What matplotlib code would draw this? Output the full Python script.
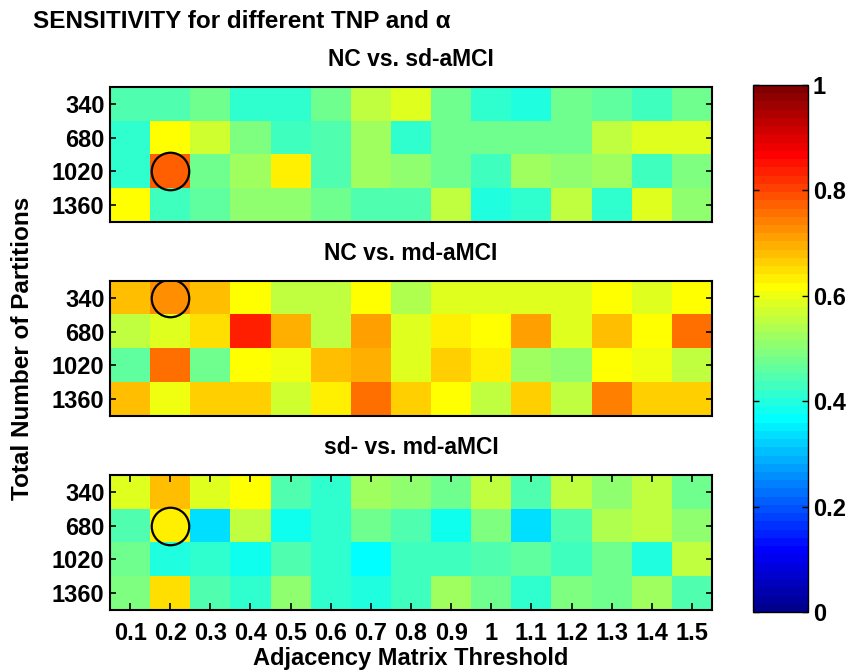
import numpy as np
import matplotlib
matplotlib.use("Agg")
import matplotlib.pyplot as plt
from matplotlib.colors import ListedColormap

plt.rcParams['font.family'] = ['Liberation Sans', 'DejaVu Sans']
plt.rcParams['font.weight'] = 'bold'

# Data

thresholds = ["0.1", "0.2", "0.3", "0.4", "0.5", "0.6", "0.7", "0.8",
              "0.9", "1", "1.1", "1.2", "1.3", "1.4", "1.5"]
partitions = ["340", "680", "1020", "1360"]

titles = ["NC vs. sd-aMCI", "NC vs. md-aMCI", "sd- vs. md-aMCI"]

sens_nc_sd = [
    [0.44, 0.44, 0.47, 0.41, 0.41, 0.48, 0.55, 0.58, 0.48, 0.42, 0.40, 0.47, 0.46, 0.43, 0.48],
    [0.41, 0.61, 0.57, 0.49, 0.43, 0.45, 0.53, 0.42, 0.47, 0.47, 0.48, 0.47, 0.56, 0.59, 0.59],
    [0.41, 0.78, 0.47, 0.52, 0.63, 0.45, 0.52, 0.51, 0.47, 0.43, 0.52, 0.51, 0.52, 0.43, 0.49],
    [0.62, 0.43, 0.46, 0.50, 0.50, 0.47, 0.44, 0.44, 0.56, 0.40, 0.42, 0.56, 0.42, 0.59, 0.50],
]

sens_nc_md = [
    [0.68, 0.73, 0.68, 0.62, 0.55, 0.55, 0.62, 0.54, 0.59, 0.58, 0.59, 0.59, 0.61, 0.58, 0.62],
    [0.55, 0.58, 0.65, 0.84, 0.69, 0.55, 0.71, 0.59, 0.64, 0.62, 0.71, 0.58, 0.68, 0.62, 0.75],
    [0.46, 0.75, 0.48, 0.62, 0.60, 0.68, 0.69, 0.58, 0.66, 0.64, 0.52, 0.50, 0.62, 0.60, 0.55],
    [0.68, 0.60, 0.66, 0.67, 0.57, 0.64, 0.75, 0.66, 0.62, 0.56, 0.66, 0.55, 0.74, 0.66, 0.67],
]

sens_sd_md = [
    [0.59, 0.68, 0.58, 0.62, 0.45, 0.42, 0.52, 0.50, 0.48, 0.55, 0.45, 0.55, 0.50, 0.56, 0.47],
    [0.44, 0.63, 0.33, 0.55, 0.39, 0.41, 0.47, 0.44, 0.38, 0.49, 0.33, 0.44, 0.54, 0.55, 0.51],
    [0.47, 0.40, 0.41, 0.39, 0.45, 0.41, 0.36, 0.43, 0.43, 0.44, 0.46, 0.43, 0.48, 0.40, 0.56],
    [0.49, 0.65, 0.44, 0.42, 0.50, 0.42, 0.40, 0.43, 0.53, 0.47, 0.41, 0.49, 0.48, 0.52, 0.44],
]

# marked (best) cell in each panel: (column, row)
best_cells = [(1, 2), (1, 0), (1, 1)]


# MATLAB style jet(64)

def matlab_jet(m=64):
    n = int(np.ceil(m / 4))
    u = np.concatenate([np.arange(1, n + 1) / n, np.ones(n - 1), np.arange(n, 0, -1) / n])
    g = int(np.ceil(n / 2)) - (1 if m % 4 == 1 else 0) + np.arange(1, len(u) + 1)
    r = g + n
    b = g - n
    J = np.zeros((m, 3))
    for col, idx in ((0, r), (1, g), (2, b)):
        ok = (idx >= 1) & (idx <= m)
        J[idx[ok] - 1, col] = u[ok]
    return ListedColormap(J)

cmap = matlab_jet(64)


# Figure

fig = plt.figure(figsize=(8.5, 6.71), dpi=100)

panel_tops = [87, 281, 475]
panel_h = 135
left, right = 110, 712
fs = 17

for k, data in enumerate([sens_nc_sd, sens_nc_md, sens_sd_md]):
    top = panel_tops[k]
    ax = fig.add_axes([left / 850, 1 - (top + panel_h) / 671,
                       (right - left) / 850, panel_h / 671])
    im = ax.imshow(np.array(data), cmap=cmap, vmin=0, vmax=1,
                   aspect='auto', interpolation='nearest')
    cx, cy = best_cells[k]
    ax.plot(cx, cy, 'o', ms=27, mfc='none', mec='k', mew=1.6)
    ax.set_title(titles[k], fontsize=16.5, fontweight='bold', pad=15)
    ax.set_yticks(range(len(partitions)))
    ax.set_yticklabels(partitions, fontsize=fs, fontweight='bold')
    ax.tick_params(axis='y', direction='in', left=True, right=True, length=4,
                   width=1.2, pad=4)
    if k == 2:
        ax.set_xticks(range(len(thresholds)))
        ax.set_xticklabels(thresholds, fontsize=fs, fontweight='bold')
        ax.tick_params(axis='x', direction='in', top=True, bottom=True, length=5,
                       width=1.2, pad=9)
        ax.set_xlabel("Adjacency Matrix Threshold", fontsize=fs, fontweight='bold',
                      labelpad=1)
    else:
        ax.set_xticks([])
    for s in ax.spines.values():
        s.set_linewidth(1.5)

cax = fig.add_axes([753 / 850, 1 - 612 / 671, 55 / 850, 527 / 671])
cb = fig.colorbar(im, cax=cax, ticks=[0, 0.2, 0.4, 0.6, 0.8, 1])
cb.ax.set_yticklabels(["0", "0.2", "0.4", "0.6", "0.8", "1"], fontsize=fs, fontweight='bold')
cb.ax.tick_params(direction='in', length=4, width=1, left=True)
cb.outline.set_linewidth(1)

fig.text(33 / 850, 1 - 22 / 671, "SENSITIVITY for different TNP and α",
         fontsize=17.5, fontweight='bold', va='center', ha='left')
fig.text(23 / 850, 1 - 348 / 671, "Total Number of Partitions",
         fontsize=17.5, fontweight='bold', rotation=90, va='center', ha='center')

fig.savefig("out.png", dpi=100)
